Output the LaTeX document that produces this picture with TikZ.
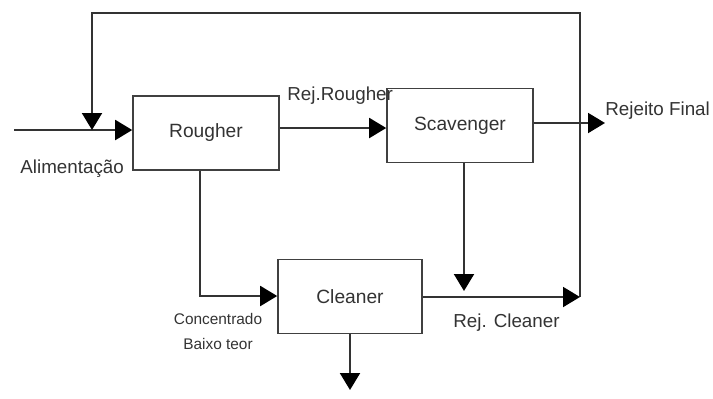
\documentclass[tikz,border=0pt]{standalone}
\usepackage{fontspec}
\setmainfont{Liberation Sans}
\usetikzlibrary{arrows.meta}
\begin{document}
\begin{tikzpicture}[x=0.5pt,y=-0.5pt,
  box/.style={draw=black!75, line width=0.8pt, minimum width=73pt, minimum height=37pt, inner sep=0pt,
    font=\fontsize{9.6}{11}\selectfont, text=black!80},
  arr/.style={draw=black!80, line width=1pt, -{Triangle[length=8.5pt,width=10pt,color=black]}},
  lbl/.style={font=\fontsize{9.4}{11}\selectfont, text=black!80, inner sep=0pt},
  smalllbl/.style={font=\fontsize{7.7}{12.5}\selectfont, text=black!80, inner sep=0pt, align=center}]
\useasboundingbox (0,0) rectangle (713,398);
% boxes
\node[box] (rougher) at (206,133) {\raisebox{-1pt}{Rougher}};
\node[box] (scav) at (460,125.5) {Scavenger};
\node[box, minimum width=72pt] (cleaner) at (350,296.5) {Cleaner};
% coordinates
\coordinate (feed) at (14,130);
\coordinate (join) at (92,130);
\coordinate (loopTL) at (92,13);
\coordinate (loopTR) at (580,13);
\coordinate (rejC) at (580,297);
\coordinate (rejF) at (605,123);
\coordinate (rr) at (0,128);
\coordinate (rougherDown) at (200,296);
\coordinate (cleanerOut) at (350,390);
\coordinate (scavIn) at (464,291);
% labels
\node[lbl, anchor=base west] (lAlim) at (20,173) {Alimentação};
\node[lbl, anchor=base west] (lRejR) at (287,100) {Rej.Rougher};
\node[lbl, anchor=base west] (lRejF) at (605,115) {Rejeito Final};
\node[lbl, anchor=base west] (lRejC) at (453,327) {Rej. Cleaner};
\node[smalllbl, anchor=north] (lConc) at (218,313) {Concentrado\\Baixo teor};
% connectors
\draw[arr] (feed) -- (rougher.west |- feed);
\draw[arr] (rejC) -- (loopTR) -- (loopTL) -- (join);
\draw[arr] (rougher.east |- rr) -- (scav.west |- rr);
\draw[arr] (scav.east |- rejF) -- (rejF);
\draw[arr] (scav.south -| scavIn) -- (scavIn);
\draw[arr] (rougher.south -| rougherDown) -- (rougherDown) -- (cleaner.west |- rougherDown);
\draw[arr] (cleaner.east |- rejC) -- (rejC);
\draw[arr] (cleaner.south) -- (cleanerOut);
\end{tikzpicture}
\end{document}
